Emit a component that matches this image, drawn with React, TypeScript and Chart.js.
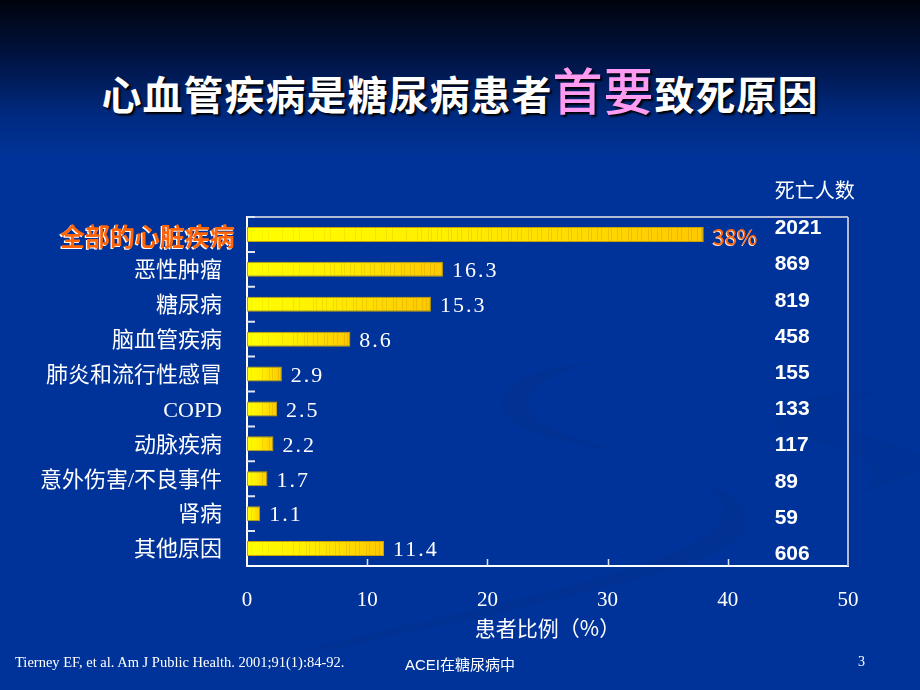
import React, { useEffect, useRef } from "react";
import { Chart, registerables } from "chart.js";

Chart.register(...registerables);

const categories = [
  "全部的心脏疾病",
  "恶性肿瘤",
  "糖尿病",
  "脑血管疾病",
  "肺炎和流行性感冒",
  "COPD",
  "动脉疾病",
  "意外伤害/不良事件",
  "肾病",
  "其他原因",
];
const percentValues = [38, 16.3, 15.3, 8.6, 2.9, 2.5, 2.2, 1.7, 1.1, 11.4];
const valueLabels = ["38%", "16.3", "15.3", "8.6", "2.9", "2.5", "2.2", "1.7", "1.1", "11.4"];
const deathCounts = ["2021", "869", "819", "458", "155", "133", "117", "89", "59", "606"];
const deathHeader = "死亡人数";
const xTicks = [0, 10, 20, 30, 40, 50];
const xTitle = "患者比例（%）";

const CJK = '"Noto Sans CJK SC", "Noto Sans", sans-serif';
const SERIF_MIX = '"Liberation Serif", "Noto Sans CJK SC", serif';

const stripePlugin = {
  id: "stripes",
  afterDatasetsDraw(chart: any) {
    const { ctx } = chart;
    const meta = chart.getDatasetMeta(0);
    meta.data.forEach((bar: any) => {
      const { x, y, base, height } = bar.getProps(["x", "y", "base", "height"], true);
      const x0 = Math.min(base, x);
      const x1 = Math.max(base, x);
      const len = x1 - x0;
      ctx.save();
      ctx.beginPath();
      ctx.rect(x0 + 1, y - height / 2 + 1, len - 2, height - 2);
      ctx.clip();
      let k = 0;
      for (let p = x0 + 4; p < x1 - 2; k++) {
        const t = (p - x0) / Math.max(len, 1);
        ctx.strokeStyle = `rgba(205,160,0,${0.12 + 0.3 * t})`;
        ctx.lineWidth = 1;
        ctx.beginPath();
        ctx.moveTo(Math.round(p) + 0.5, y - height / 2);
        ctx.lineTo(Math.round(p) + 0.5, y + height / 2);
        ctx.stroke();
        const gap = t < 0.35 ? [11, 6, 14][k % 3] : [4, 7, 3, 6][k % 4];
        p += gap;
      }
      ctx.restore();
    });
  },
};

const decorPlugin = {
  id: "decor",
  afterDraw(chart: any) {
    const { ctx, chartArea } = chart;
    const xs = chart.scales.x;
    const ys = chart.scales.y;
    const { left, right, top, bottom } = chartArea;
    ctx.save();
    // frame top & right
    ctx.strokeStyle = "#b4bad6";
    ctx.lineWidth = 2;
    ctx.beginPath();
    ctx.moveTo(left, top);
    ctx.lineTo(right, top);
    ctx.moveTo(right, top);
    ctx.lineTo(right, bottom);
    ctx.stroke();
    // left inner ticks at category boundaries
    ctx.strokeStyle = "#dfe3f3";
    ctx.lineWidth = 2;
    ctx.beginPath();
    for (let i = 0; i < categories.length; i++) {
      const yb = i === 0 ? top : (ys.getPixelForValue(i - 1) + ys.getPixelForValue(i)) / 2;
      ctx.moveTo(left, yb);
      ctx.lineTo(left + 8, yb);
    }
    ctx.stroke();
    // bottom inner ticks
    ctx.lineWidth = 1.5;
    ctx.beginPath();
    for (const v of xTicks) {
      if (v === xTicks[0] || v === xTicks[xTicks.length - 1]) continue;
      const xp = Math.round(xs.getPixelForValue(v)) + 0.5;
      ctx.moveTo(xp, bottom);
      ctx.lineTo(xp, bottom - 7);
    }
    ctx.stroke();

    // category labels
    ctx.textBaseline = "middle";
    ctx.textAlign = "right";
    categories.forEach((c, i) => {
      const y = ys.getPixelForValue(i) + 2;
      if (i === 0) {
        ctx.font = `bold 25px ${CJK}`;
        ctx.fillStyle = "#ffffff";
        ctx.fillText(c, left - 12 - 1.2, y + 1.2);
        ctx.fillStyle = "#ff6408";
        ctx.fillText(c, left - 12, y);
      } else {
        ctx.font = `22px ${SERIF_MIX}`;
        ctx.fillStyle = "#ffffff";
        ctx.fillText(c, left - 25, y);
      }
    });

    // value labels
    ctx.textAlign = "left";
    percentValues.forEach((v, i) => {
      const x = xs.getPixelForValue(v) + 9;
      const y = ys.getPixelForValue(i) + 2;
      if (i === 0) {
        ctx.font = `22px ${CJK}`;
        ctx.fillStyle = "#ffe0c8";
        ctx.fillText(valueLabels[i], x - 1, y + 1);
        ctx.fillStyle = "#ff6408";
        ctx.fillText(valueLabels[i], x, y);
      } else {
        ctx.font = `22px "Liberation Serif", serif`;
        (ctx as any).letterSpacing = "2px";
        ctx.fillStyle = "#ffffff";
        ctx.fillText(valueLabels[i], x, y);
        (ctx as any).letterSpacing = "0px";
      }
    });

    // death counts column
    const colX = xs.getPixelForValue(43.9);
    ctx.font = `20px ${CJK}`;
    ctx.fillStyle = "#ffffff";
    ctx.fillText(deathHeader, colX, top - 27);
    ctx.font = `bold 21px "Liberation Sans", Arial, sans-serif`;
    deathCounts.forEach((d, i) => {
      const y = ys.getPixelForValue(i) - 6 + 1.3 * i;
      ctx.fillText(d, colX, y);
    });
    ctx.restore();
  },
};

export default function App() {
  const canvasRef = useRef<HTMLCanvasElement | null>(null);

  useEffect(() => {
    if (!canvasRef.current) return;
    const chart = new Chart(canvasRef.current, {
      type: "bar",
      data: {
        labels: categories,
        datasets: [
          {
            data: percentValues,
            backgroundColor: (c: any) => {
              const xs = c.chart.scales?.x;
              if (!xs || c.type !== "data") return "#ffee00";
              const x0 = xs.getPixelForValue(0);
              const x1 = xs.getPixelForValue(c.raw);
              if (!isFinite(x0) || !isFinite(x1) || x1 <= x0) return "#ffee00";
              const g = c.chart.ctx.createLinearGradient(x0, 0, x1, 0);
              g.addColorStop(0, "#ffff00");
              g.addColorStop(0.45, "#ffee00");
              g.addColorStop(1, "#ffc800");
              return g;
            },
            borderColor: "#c9a200",
            borderWidth: 1,
            borderSkipped: false,
            barPercentage: 0.43,
            categoryPercentage: 1,
          },
        ],
      },
      options: {
        indexAxis: "y",
        responsive: false,
        animation: false,
        events: [],
        layout: { padding: { top: 217, right: 72, left: 0, bottom: 0 } },
        plugins: {
          legend: { display: false },
          tooltip: { enabled: false },
          title: { display: false },
        },
        scales: {
          x: {
            type: "linear",
            min: 0,
            max: 50,
            afterBuildTicks: (s: any) => {
              s.ticks = xTicks.map((v) => ({ value: v }));
            },
            ticks: {
              color: "#ffffff",
              font: { family: '"Liberation Serif", serif', size: 21 },
              padding: 22,
              maxRotation: 0,
            },
            grid: { display: false, drawTicks: false },
            border: { display: true, color: "#ffffff", width: 2 },
            title: {
              display: true,
              text: xTitle,
              color: "#ffffff",
              font: { family: CJK, size: 21 },
              padding: { top: 0, bottom: 49 },
            },
            afterFit: (s: any) => {
              s.height = 124;
            },
          },
          y: {
            type: "category",
            ticks: { display: false },
            grid: { display: false, drawTicks: false },
            border: { display: true, color: "#ffffff", width: 2 },
            afterFit: (s: any) => {
              s.width = 247;
            },
          },
        },
      },
      plugins: [stripePlugin, decorPlugin],
    } as any);
    return () => chart.destroy();
  }, []);

  return (
    <div
      style={{
        position: "fixed",
        left: 0,
        top: 0,
        width: 920,
        height: 690,
        overflow: "hidden",
        background:
          "linear-gradient(to bottom, #00030d 0px, #000e30 40px, #001a55 75px, #002a80 115px, #00339a 160px, #00339a 690px)",
        fontFamily: CJK,
      }}
    >
      <svg
        width={920}
        height={690}
        style={{ position: "absolute", left: 0, top: 0 }}
      >
        <path
          d="M 610 360 C 480 370, 470 420, 560 440 C 660 462, 740 480, 720 520 C 700 560, 560 590, 300 650 L 330 650 C 600 590, 760 560, 745 515 C 730 475, 620 455, 560 432 C 500 410, 530 372, 610 360 Z"
          fill="#002f8e"
          opacity={0.55}
        />
        <path
          d="M 880 390 C 760 395, 740 430, 830 445 C 900 458, 880 500, 800 520 L 920 470 L 920 455 C 900 440, 790 430, 880 390 Z"
          fill="#002f8e"
          opacity={0.5}
        />
      </svg>
      <div
        style={{
          position: "absolute",
          left: 0,
          top: 58,
          width: 920,
          textAlign: "center",
          color: "#ffffff",
          fontSize: 40,
          lineHeight: "60px",
          fontWeight: 700,
          textShadow: "2px 2px 2px #000000",
          whiteSpace: "nowrap",
          letterSpacing: 1,
        }}
      >
        心血管疾病是糖尿病患者
        <span style={{ color: "#ff9cf2", fontSize: 50, fontWeight: 500 }}>首要</span>
        致死原因
      </div>
      <canvas
        ref={canvasRef}
        width={920}
        height={690}
        style={{ position: "absolute", left: 0, top: 0 }}
      />
      <div
        style={{
          position: "absolute",
          left: 15,
          top: 654,
          color: "#ffffff",
          fontFamily: '"Liberation Serif", serif',
          fontSize: 14.5,
          whiteSpace: "nowrap",
        }}
      >
        Tierney EF, et al. Am J Public Health. 2001;91(1):84-92.
      </div>
      <div
        style={{
          position: "absolute",
          left: 405,
          top: 653,
          color: "#ffffff",
          fontFamily: '"Liberation Sans", "Noto Sans CJK SC", sans-serif',
          fontSize: 15,
          whiteSpace: "nowrap",
        }}
      >
        ACEI在糖尿病中
      </div>
      <div
        style={{
          position: "absolute",
          left: 858,
          top: 654,
          color: "#ffffff",
          fontFamily: '"Liberation Serif", serif',
          fontSize: 14,
        }}
      >
        3
      </div>
    </div>
  );
}
